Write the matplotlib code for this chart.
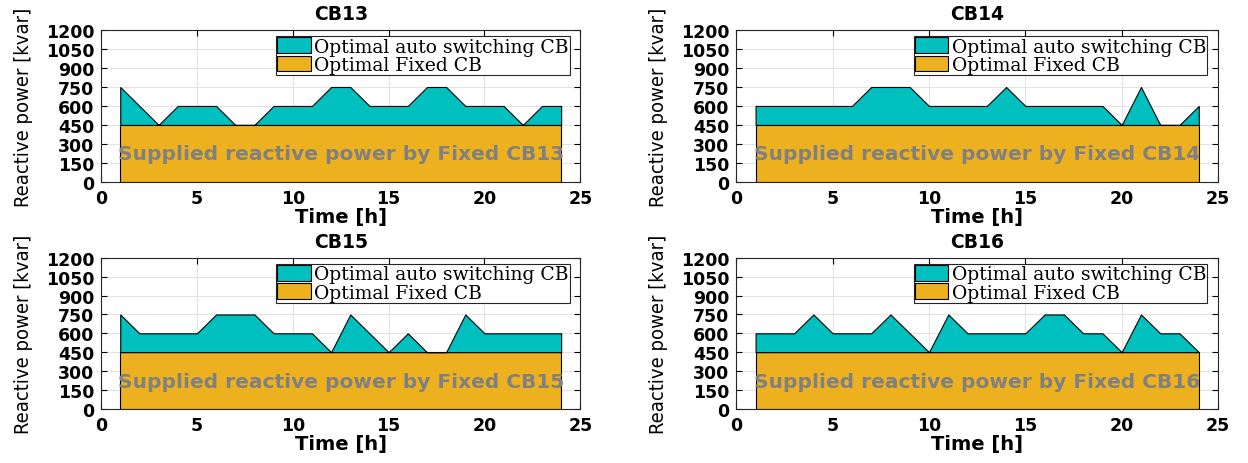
import numpy as np
import matplotlib
matplotlib.use("Agg")
import matplotlib.pyplot as plt

hours = np.arange(1, 25)
fixed_cb = 450

auto_cb13 = [750, 600, 450, 600, 600, 600, 450, 450, 600, 600, 600, 750,
             750, 600, 600, 600, 750, 750, 600, 600, 600, 450, 600, 600]
auto_cb14 = [600, 600, 600, 600, 600, 600, 750, 750, 750, 600, 600, 600,
             600, 750, 600, 600, 600, 600, 600, 450, 750, 450, 450, 600]
auto_cb15 = [750, 600, 600, 600, 600, 750, 750, 750, 600, 600, 600, 450,
             750, 600, 450, 600, 450, 450, 750, 600, 600, 600, 600, 600]
auto_cb16 = [600, 600, 600, 750, 600, 600, 600, 750, 600, 450, 750, 600,
             600, 600, 600, 750, 750, 600, 600, 450, 750, 600, 600, 450]

names = ["CB13", "CB14", "CB15", "CB16"]
series = [auto_cb13, auto_cb14, auto_cb15, auto_cb16]

teal = "#00BFBF"
orange = "#EDB120"
sans = ["DejaVu Sans"]
serif = ["DejaVu Serif"]

fig = plt.figure(figsize=(12.48, 4.64), dpi=100)
positions = [
    [0.081, 0.606, 0.384, 0.327],
    [0.590, 0.606, 0.386, 0.327],
    [0.081, 0.117, 0.384, 0.325],
    [0.590, 0.117, 0.386, 0.325],
]

for pos, name, auto in zip(positions, names, series):
    ax = fig.add_axes(pos)
    auto = np.array(auto)
    fixed = np.full(len(hours), fixed_cb)
    ax.fill_between(hours, 0, fixed, facecolor=orange, edgecolor="black",
                    linewidth=0.8, label="Optimal Fixed CB", zorder=2)
    ax.fill_between(hours, fixed, auto, facecolor=teal, edgecolor="black",
                    linewidth=0.8, label="Optimal auto switching CB", zorder=2)
    ax.set_xlim(0, 25)
    ax.set_ylim(0, 1200)
    ax.set_xticks(np.arange(0, 26, 5))
    ax.set_yticks(np.arange(0, 1201, 150))
    ax.grid(True, color="#e3e3e3", linewidth=0.8, zorder=0)
    ax.set_axisbelow(True)
    ax.tick_params(direction="in", top=True, right=True, length=4,
                   width=0.8)
    ax.tick_params(axis="y", pad=5)
    ax.tick_params(axis="x", pad=5)
    for lab in ax.get_xticklabels() + ax.get_yticklabels():
        lab.set_family(sans)
        lab.set_fontweight("bold")
        lab.set_fontsize(12.5)
    for sp in ax.spines.values():
        sp.set_linewidth(0.8)
        sp.set_color("#262626")
    ax.set_title(name, fontsize=13.5, fontweight="bold", family=sans, pad=8)
    ax.set_xlabel("Time [h]", fontsize=14, fontweight="bold", family=sans,
                  labelpad=0)
    ax.set_ylabel("Reactive power [kvar]", fontsize=14.5, family=sans,
                  fontstretch="condensed", labelpad=9)
    ax.text(12.5, 220, "Supplied reactive power by Fixed " + name,
            ha="center", va="center", fontsize=14.5, fontweight="bold",
            color="#808080", family=sans, zorder=3)
    handles, labels = ax.get_legend_handles_labels()
    leg = ax.legend(handles[::-1], labels[::-1], loc="upper right",
                    bbox_to_anchor=(0.978, 0.958),
                    prop={"family": serif, "size": 13.5}, frameon=True,
                    fancybox=False, edgecolor="#262626", framealpha=1,
                    borderpad=0.05, labelspacing=0.0, handlelength=1.8,
                    handleheight=0.9, handletextpad=0.2,
                    borderaxespad=0)
    leg.get_frame().set_linewidth(0.8)

fig.savefig("out.png", dpi=100)
